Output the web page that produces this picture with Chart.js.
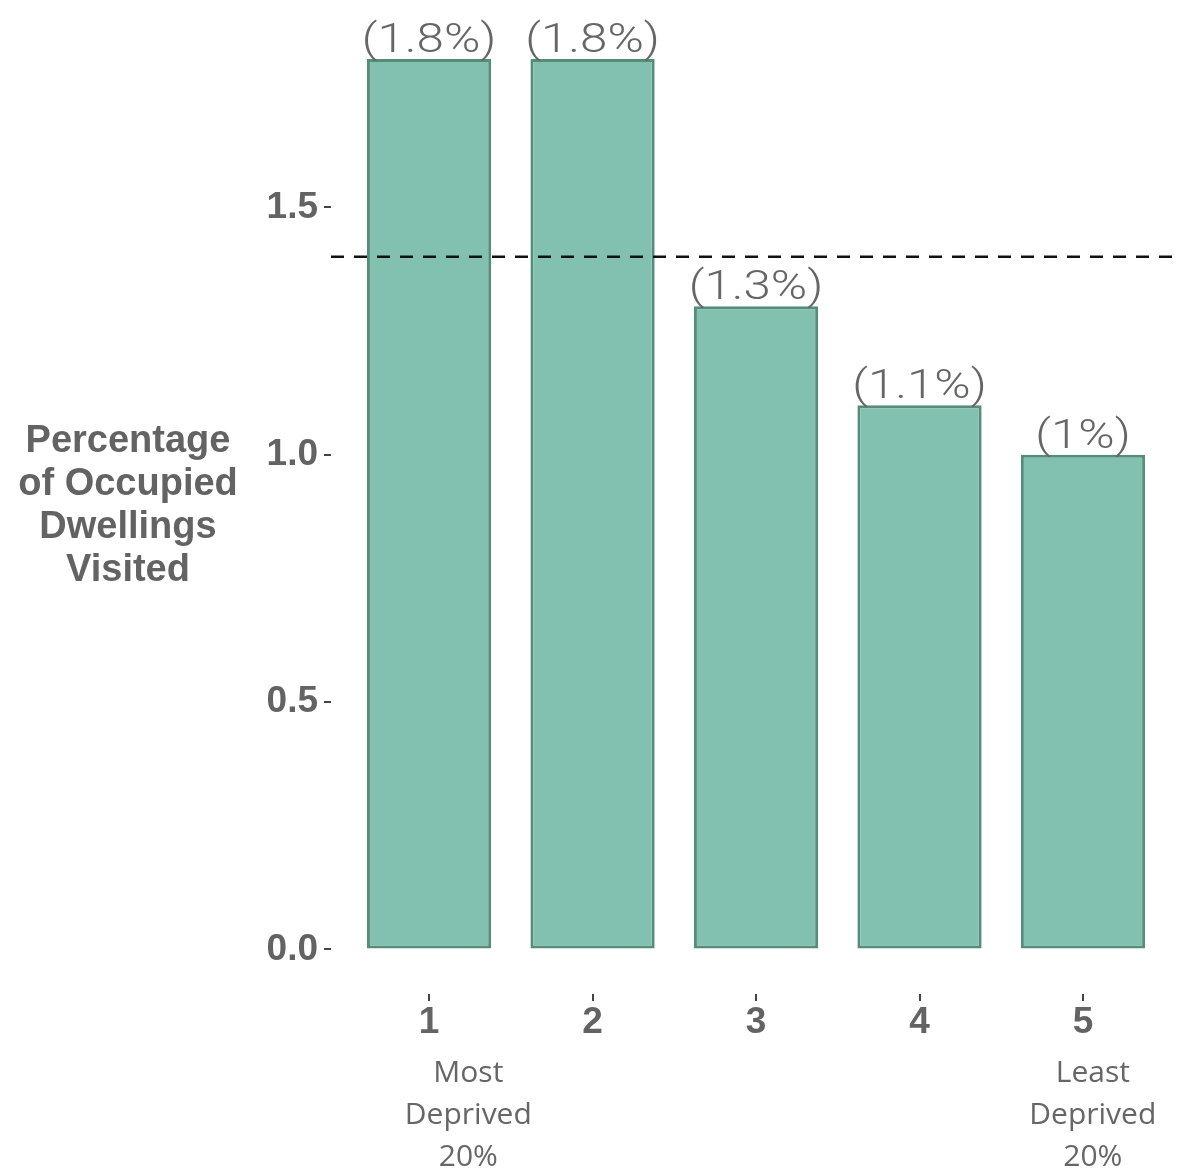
<!DOCTYPE html>
<html>
<head>
<meta charset="utf-8">
<script src="https://cdn.jsdelivr.net/npm/chart.js@4/dist/chart.umd.min.js"></script>
<style>
  html, body { margin: 0; padding: 0; background: #fff; }
  #wrap { width: 1177px; height: 1169px; position: relative; }
</style>
</head>
<body>
<div id="wrap"><canvas id="depChart"></canvas></div>
<script>
// deprivation quintiles and their share of dwellings visited
const categories = ['1', '2', '3', '4', '5'];
const visitedPct = [1.8, 1.8, 1.3, 1.1, 1.0];
const valueLabels = ['(1.8%)', '(1.8%)', '(1.3%)', '(1.1%)', '(1%)'];
const yTicks = [0, 0.5, 1.0, 1.5];
const overallPct = 1.4;
const yTitleLines = ['Percentage', 'of Occupied', 'Dwellings', 'Visited'];
const firstNote = ['Most', 'Deprived', '20%'];
const lastNote = ['Least', 'Deprived', '20%'];

const textGrey = '#636363';

const annotations = {
  id: 'annotations',
  afterDatasetsDraw(chart) {
    const ctx = chart.ctx;
    const y = chart.scales.y;
    const area = chart.chartArea;

    // overall average line
    const yy = y.getPixelForValue(overallPct);
    ctx.save();
    ctx.strokeStyle = '#111';
    ctx.lineWidth = 2.5;
    ctx.setLineDash([13, 10]);
    ctx.beginPath();
    ctx.moveTo(area.left, yy);
    ctx.lineTo(chart.width, yy);
    ctx.stroke();
    ctx.restore();

    // labels above bars (slightly widened like the original)
    const meta = chart.getDatasetMeta(0);
    meta.data.forEach((bar, i) => {
      ctx.save();
      ctx.fillStyle = '#666';
      ctx.font = '300 41px Roboto, "Liberation Sans", sans-serif';
      ctx.textAlign = 'center';
      ctx.textBaseline = 'alphabetic';
      ctx.translate(bar.x, bar.y - 7);
      ctx.scale(1.2, 1);
      ctx.fillText(valueLabels[i], 0, 0);
      ctx.restore();
    });
  },
  afterDraw(chart) {
    const ctx = chart.ctx;
    const x = chart.scales.x;
    const area = chart.chartArea;

    // horizontal y axis title
    ctx.save();
    ctx.fillStyle = textGrey;
    ctx.font = 'bold 38px "Liberation Sans", Arial, sans-serif';
    ctx.textAlign = 'center';
    ctx.textBaseline = 'alphabetic';
    yTitleLines.forEach((t, i) => {
      ctx.fillText(t, area.left - 203, 452 + i * 43);
    });
    ctx.restore();

    // notes under the end quintiles
    ctx.save();
    ctx.fillStyle = '#666';
    ctx.font = '30px "Open Sans", sans-serif';
    ctx.textAlign = 'center';
    ctx.textBaseline = 'alphabetic';
    const x1 = x.getPixelForValue(1.24);
    const x5 = x.getPixelForValue(5.06);
    firstNote.forEach((t, i) => ctx.fillText(t, x1, 1082 + i * 42));
    lastNote.forEach((t, i) => ctx.fillText(t, x5, 1082 + i * 42));
    ctx.restore();
  }
};

new Chart(document.getElementById('depChart').getContext('2d'), {
  type: 'bar',
  data: {
    datasets: [{
      data: categories.map((c, i) => ({ x: i + 1, y: visitedPct[i] })),
      backgroundColor: '#82c1af',
      borderColor: '#568c7c',
      borderWidth: 3,
      borderSkipped: false,
      categoryPercentage: 1,
      barPercentage: 0.76
    }]
  },
  options: {
    responsive: true,
    maintainAspectRatio: false,
    animation: false,
    plugins: {
      legend: { display: false },
      tooltip: { enabled: false }
    },
    scales: {
      x: {
        type: 'linear',
        min: 0.4,
        max: 5.575,
        offset: false,
        afterBuildTicks: (s) => { s.ticks = categories.map((c, i) => ({ value: i + 1 })); },
        afterFit: (s) => { s.height = 175; },
        ticks: {
          autoSkip: false,
          maxRotation: 0,
          padding: 0,
          color: textGrey,
          font: { family: '"Liberation Sans", Arial, sans-serif', size: 37, weight: 'bold' },
          callback: (v) => categories[v - 1]
        },
        grid: { offset: false, drawOnChartArea: false, tickLength: 7, color: '#444', lineWidth: 2 },
        border: { display: false }
      },
      y: {
        min: -0.09,
        max: 1.862,
        afterBuildTicks: (s) => { s.ticks = yTicks.map(v => ({ value: v })); },
        afterFit: (s) => { s.width = 331; },
        ticks: {
          padding: 6,
          color: textGrey,
          font: { family: '"Liberation Sans", Arial, sans-serif', size: 37, weight: 'bold' },
          callback: (v) => v.toFixed(1)
        },
        grid: { drawOnChartArea: false, tickLength: 7, color: '#444', lineWidth: 2 },
        border: { display: false }
      }
    }
  },
  plugins: [annotations]
});
</script>
</body>
</html>
